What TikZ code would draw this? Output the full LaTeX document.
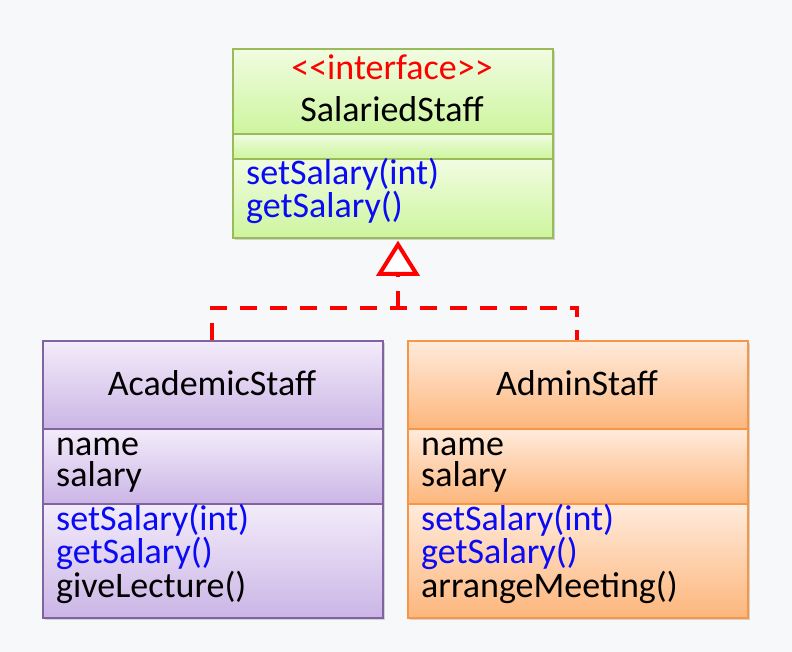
\documentclass[tikz,border=0pt]{standalone}
\usepackage{fontspec}
\setmainfont{Carlito}
\usetikzlibrary{shadows}
\definecolor{bgc}{HTML}{F7F8FA}
\definecolor{gline}{HTML}{9BBB59}
\definecolor{gtop}{HTML}{F1FCE2}
\definecolor{gbot}{HTML}{CDF59E}
\definecolor{pline}{HTML}{8064A2}
\definecolor{ptop}{HTML}{F3ECFA}
\definecolor{pbot}{HTML}{CBB5E6}
\definecolor{oline}{HTML}{F79646}
\definecolor{otop}{HTML}{FFEBDC}
\definecolor{obot}{HTML}{FDB67C}
\definecolor{ired}{HTML}{FF0000}
\definecolor{mblue}{HTML}{0A0AF5}
\tikzset{
  classbox/.style={rectangle, anchor=north west, inner sep=0pt, fill=white,
    drop shadow={shadow xshift=2.5pt, shadow yshift=-2.5pt, opacity=0.25, fill=black!60}},
  comp/.style={rectangle, anchor=north west, inner sep=0pt, line width=1.6pt},
  gcomp/.style={comp, draw=gline, top color=gtop, bottom color=gbot},
  pcomp/.style={comp, draw=pline, top color=ptop, bottom color=pbot},
  ocomp/.style={comp, draw=oline, top color=otop, bottom color=obot},
  txt/.style={inner sep=0pt, font=\fontsize{36}{31}\selectfont},
  ctxt/.style={txt, anchor=base},
  ltxt/.style={txt, anchor=base west, align=left},
  realize/.style={draw=ired, line width=4pt, dash pattern=on 17pt off 13pt},
  hollowtri/.style={draw=ired, fill=white, line width=4pt, line join=miter},
}
\begin{document}
\begin{tikzpicture}[x=1pt,y=-1pt]
\path[fill=bgc] (0,0) rectangle (792,652);
\useasboundingbox (0,0) rectangle (792,652);

% Interface SalariedStaff
\node[classbox, minimum width=320pt, minimum height=189pt] (iface) at (232,48) {};
\node[gcomp, minimum width=320pt, minimum height=85pt] (ifaceHead) at (232,48) {};
\node[gcomp, minimum width=320pt, minimum height=25pt] (ifaceAttr) at (232,133) {};
\node[gcomp, minimum width=320pt, minimum height=79pt] (ifaceOps) at (232,158) {};
\node[ctxt, text=ired] (ifaceSt) at (392,80) {<\kern0pt<interface>\kern0pt>};
\node[ctxt] (ifaceName) at (392,122) {SalariedStaff};
\node[ltxt, text=mblue] (ifaceMeth) at (246,218) {setSalary(int)\\getSalary()};

% AcademicStaff
\node[classbox, minimum width=340pt, minimum height=277pt] (acad) at (42,340) {};
\node[pcomp, minimum width=340pt, minimum height=88pt] (acadHead) at (42,340) {};
\node[pcomp, minimum width=340pt, minimum height=75pt] (acadAttr) at (42,428) {};
\node[pcomp, minimum width=340pt, minimum height=114pt] (acadOps) at (42,503) {};
\node[ctxt] (acadName) at (212,395) {AcademicStaff};
\node[ltxt] (acadAttrs) at (56,486) {name\\salary};
\node[ltxt, font=\fontsize{36}{32.5}\selectfont] (acadMeth) at (56,597)
  {\textcolor{mblue}{setSalary(int)}\\\textcolor{mblue}{getSalary()}\\giveLecture()};

% AdminStaff
\node[classbox, minimum width=340pt, minimum height=277pt] (admin) at (407,340) {};
\node[ocomp, minimum width=340pt, minimum height=88pt] (adminHead) at (407,340) {};
\node[ocomp, minimum width=340pt, minimum height=75pt] (adminAttr) at (407,428) {};
\node[ocomp, minimum width=340pt, minimum height=114pt] (adminOps) at (407,503) {};
\node[ctxt] (adminName) at (577,395) {AdminStaff};
\node[ltxt] (adminAttrs) at (421,486) {name\\salary};
\node[ltxt, font=\fontsize{36}{32.5}\selectfont] (adminMeth) at (421,597)
  {\textcolor{mblue}{setSalary(int)}\\\textcolor{mblue}{getSalary()}\\arrangeMeeting()};

% Realization connectors
\coordinate (junction) at (398,307.5);
\coordinate (tribase) at (398,274);
\draw[realize] (acad.north) |- (junction) -| (admin.north);
\draw[realize] (junction) -- (tribase);
\draw[hollowtri] (398,244.5) -- (416.5,274) -- (379.5,274) -- cycle;
\end{tikzpicture}
\end{document}
